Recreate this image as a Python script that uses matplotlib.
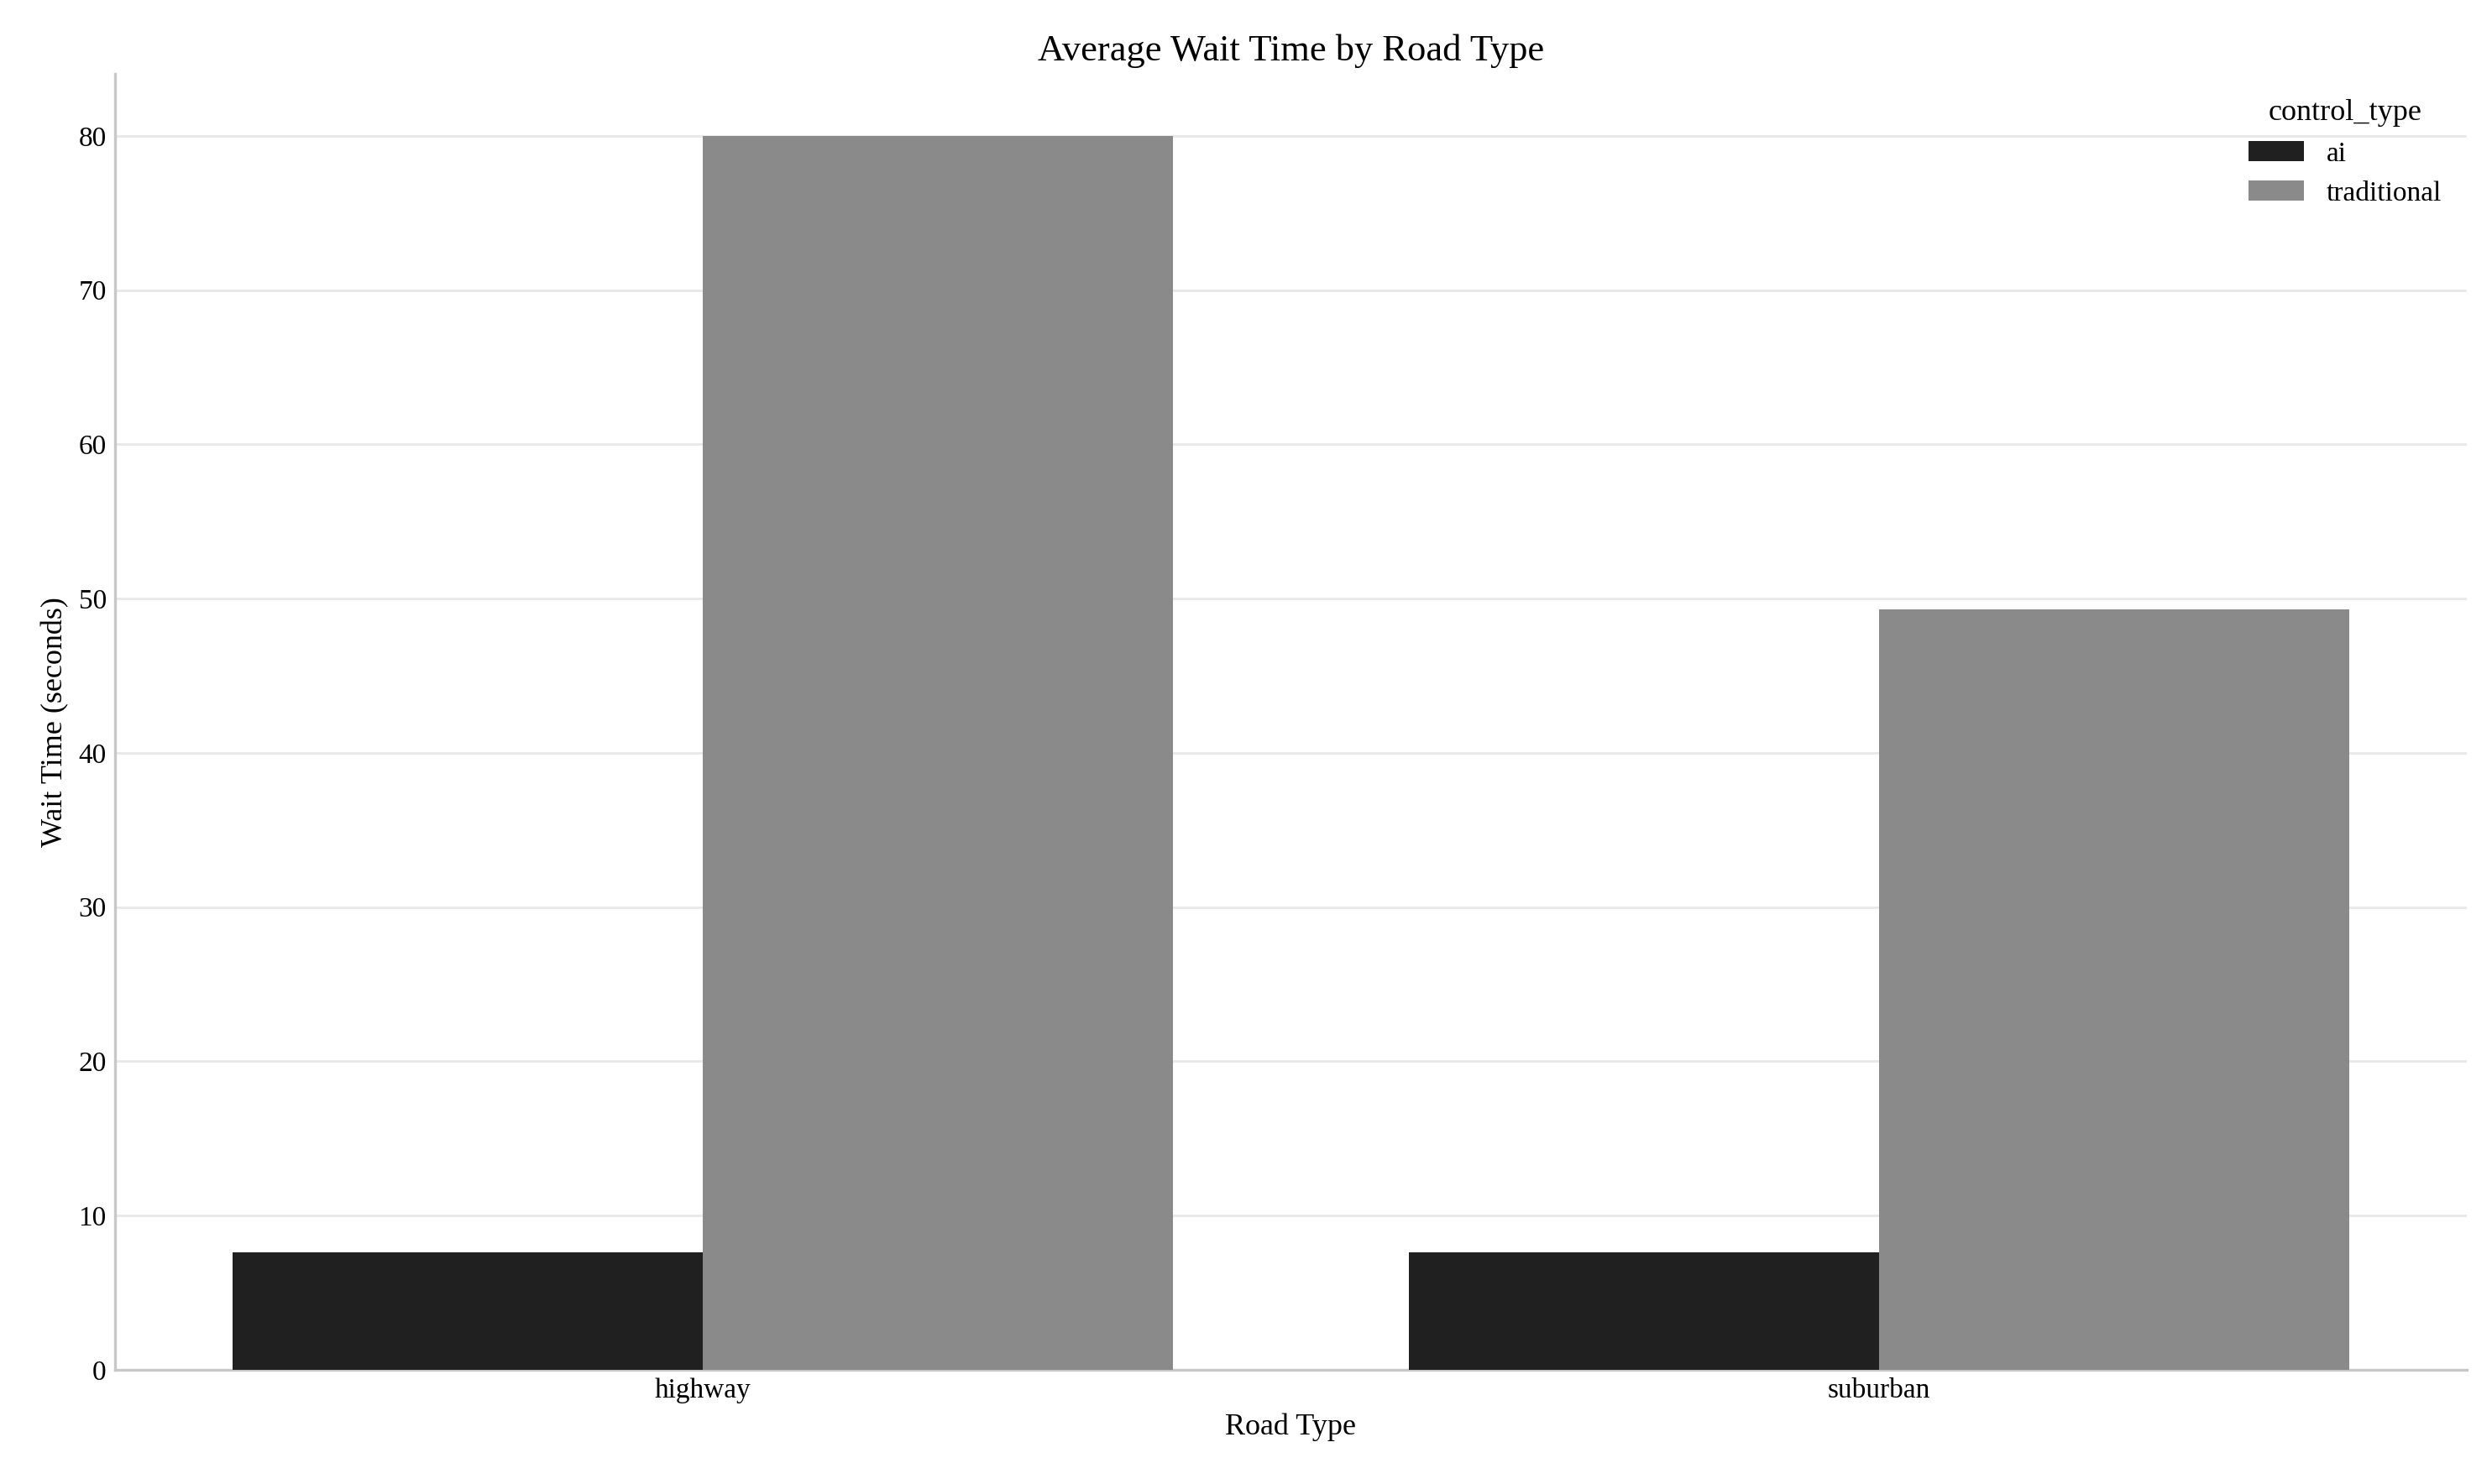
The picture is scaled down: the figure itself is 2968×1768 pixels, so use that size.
import matplotlib
matplotlib.use("Agg")
import matplotlib.pyplot as plt
import numpy as np

plt.rcParams['font.family'] = ['Liberation Serif', 'DejaVu Serif']

road_types = ["highway", "suburban"]
control_types = ["ai", "traditional"]
wait_ai = [7.6, 7.6]
wait_traditional = [80.0, 49.3]
colors = ["#202020", "#8a8a8a"]

fig = plt.figure(figsize=(14.84, 8.84), dpi=200)
ax = fig.add_axes([0.046, 0.077, 0.944, 0.873])
x = np.arange(len(road_types))
w = 0.4
ax.bar(x - w/2, wait_ai, width=w, color=colors[0], label=control_types[0], zorder=3)
ax.bar(x + w/2, wait_traditional, width=w, color=colors[1], label=control_types[1], zorder=3)
ax.set_xlim(-0.5, 1.5)
ax.set_ylim(0, 84)
ax.set_xticks(x)
ax.set_xticklabels(road_types)
ax.set_yticks(range(0, 81, 10))
ax.grid(axis='y', color='#e8e8e8', linewidth=1, zorder=0)
ax.tick_params(length=0, labelsize=12)
for s in ['top', 'right']:
    ax.spines[s].set_visible(False)
for s in ['left', 'bottom']:
    ax.spines[s].set_color('#c8c8c8')
    ax.spines[s].set_linewidth(1.2)
ax.set_title("Average Wait Time by Road Type", fontsize=16)
ax.set_xlabel("Road Type", fontsize=13)
ax.set_ylabel("Wait Time (seconds)", fontsize=13)
ax.legend(title="control_type", frameon=False, loc='upper right', fontsize=12, title_fontsize=13)
fig.savefig("out.png", dpi=200)
